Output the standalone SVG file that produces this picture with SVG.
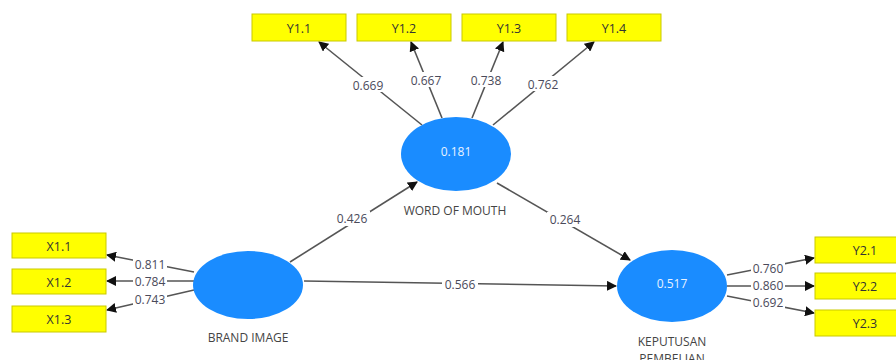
<svg xmlns="http://www.w3.org/2000/svg" width="896" height="360" viewBox="0 0 896 360">
<defs>
<marker id="ah" viewBox="0 0 10 10" refX="9" refY="5" markerWidth="10" markerHeight="10" markerUnits="userSpaceOnUse" orient="auto">
<path d="M0,0 L10,5 L0,10 z" fill="#111"/>
</marker>
</defs>
<style>
.box{fill:#ffff00;stroke:#c9c900;stroke-width:1}
.bt{font-family:"Open Sans","Noto Sans",sans-serif;font-size:12.5px;fill:#333;text-anchor:middle;dominant-baseline:central}
.lv{fill:#1a8cff}
.vt{font-family:"Open Sans","Noto Sans",sans-serif;font-size:12px;fill:#e8f2ff;text-anchor:middle;dominant-baseline:central}
.nm{font-family:"Open Sans","Noto Sans",sans-serif;font-size:12px;fill:#444;text-anchor:middle;dominant-baseline:central}
.ln{stroke:#555;stroke-width:1.6;fill:none;marker-end:url(#ah)}
.lb{font-family:"Open Sans","Noto Sans",sans-serif;font-size:12px;fill:#4a4a5a;text-anchor:middle;dominant-baseline:central}
.bg{fill:#fff}
</style>
<rect width="896" height="360" fill="#fff"/>
<g id="connectors">
<line class="ln" x1="422" y1="125" x2="319" y2="42"/>
<line class="ln" x1="442" y1="118" x2="411" y2="42"/>
<line class="ln" x1="472" y1="118" x2="503" y2="42"/>
<line class="ln" x1="493" y1="125" x2="594" y2="42"/>
<line class="ln" x1="194" y1="272" x2="107" y2="255"/>
<line class="ln" x1="194" y1="281" x2="107" y2="281"/>
<line class="ln" x1="194" y1="290" x2="107" y2="310"/>
<line class="ln" x1="727" y1="275" x2="814" y2="258"/>
<line class="ln" x1="727" y1="286" x2="814" y2="286"/>
<line class="ln" x1="727" y1="296" x2="814" y2="313"/>
<line class="ln" x1="290" y1="262" x2="417" y2="182"/>
<line class="ln" x1="497" y1="183" x2="630" y2="260"/>
<line class="ln" x1="304" y1="281" x2="616" y2="286"/>
<g id="labels">
<rect class="bg" x="350" y="77" width="36" height="15"/><text class="lb" x="368" y="85">0.669</text>
<rect class="bg" x="408" y="72" width="36" height="15"/><text class="lb" x="426" y="80">0.667</text>
<rect class="bg" x="468" y="72" width="36" height="15"/><text class="lb" x="486" y="80">0.738</text>
<rect class="bg" x="525" y="76" width="36" height="15"/><text class="lb" x="543" y="84">0.762</text>
<rect class="bg" x="133" y="257" width="34" height="14"/><text class="lb" x="150" y="264">0.811</text>
<rect class="bg" x="133" y="275" width="34" height="13"/><text class="lb" x="150" y="281">0.784</text>
<rect class="bg" x="133" y="292" width="34" height="14"/><text class="lb" x="150" y="299">0.743</text>
<rect class="bg" x="751" y="261" width="34" height="14"/><text class="lb" x="768" y="268">0.760</text>
<rect class="bg" x="751" y="279" width="34" height="13"/><text class="lb" x="768" y="285">0.860</text>
<rect class="bg" x="751" y="295" width="34" height="14"/><text class="lb" x="768" y="302">0.692</text>
<rect class="bg" x="334" y="211" width="36" height="15"/><text class="lb" x="352" y="218">0.426</text>
<rect class="bg" x="547" y="212" width="36" height="15"/><text class="lb" x="565" y="219">0.264</text>
<rect class="bg" x="442" y="277" width="36" height="14"/><text class="lb" x="460" y="284">0.566</text>
</g>
</g>
<g id="Y1.1"><rect class="box" x="252" y="14" width="94" height="27"/><text class="bt" x="299" y="28">Y1.1</text></g>
<g id="Y1.2"><rect class="box" x="357" y="14" width="94" height="27"/><text class="bt" x="404" y="28">Y1.2</text></g>
<g id="Y1.3"><rect class="box" x="462" y="14" width="94" height="27"/><text class="bt" x="509" y="28">Y1.3</text></g>
<g id="Y1.4"><rect class="box" x="567" y="14" width="94" height="27"/><text class="bt" x="614" y="28">Y1.4</text></g>
<g id="X1.1"><rect class="box" x="12" y="233" width="94" height="25"/><text class="bt" x="59" y="246">X1.1</text></g>
<g id="X1.2"><rect class="box" x="12" y="269" width="94" height="25"/><text class="bt" x="59" y="282">X1.2</text></g>
<g id="X1.3"><rect class="box" x="12" y="306" width="94" height="26"/><text class="bt" x="59" y="319">X1.3</text></g>
<g id="Y2.1"><rect class="box" x="815" y="237" width="94" height="26"/><text class="bt" x="865" y="250">Y2.1</text></g>
<g id="Y2.2"><rect class="box" x="815" y="273" width="94" height="26"/><text class="bt" x="865" y="286">Y2.2</text></g>
<g id="Y2.3"><rect class="box" x="815" y="310" width="94" height="26"/><text class="bt" x="865" y="323">Y2.3</text></g>
<g id="WOM"><ellipse class="lv" cx="456" cy="154" rx="55" ry="37"/><text class="vt" x="456" y="151">0.181</text><text class="nm" x="455" y="210">WORD OF MOUTH</text></g>
<g id="BI"><ellipse class="lv" cx="248" cy="285" rx="55" ry="34"/><text class="nm" x="248" y="337">BRAND IMAGE</text></g>
<g id="KP"><ellipse class="lv" cx="672" cy="286" rx="55" ry="36"/><text class="vt" x="672" y="283">0.517</text><text class="nm" x="672" y="341">KEPUTUSAN</text><text class="nm" x="672" y="358">PEMBELIAN</text></g>
</svg>
